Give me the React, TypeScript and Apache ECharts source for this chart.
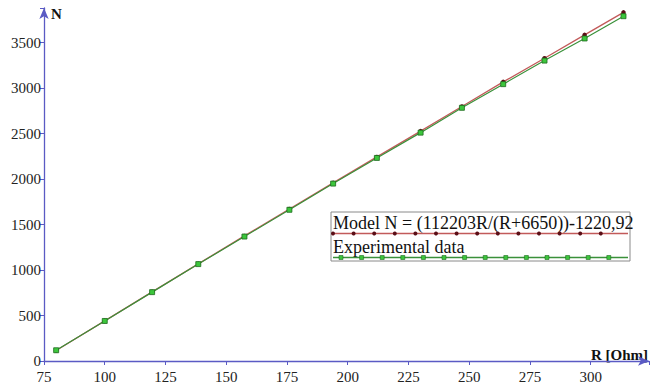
import { useEffect, useRef } from "react";
import * as echarts from "echarts";

const resistance = [80, 100, 119.5, 138.5, 157.5, 176, 194, 212, 230, 247, 264, 281, 297.5, 313.5];
const modelN = [115, 441, 760, 1068, 1375, 1670, 1958, 2243, 2527, 2798, 3068, 3328, 3585, 3832];
const experimentalN = [118, 440, 757, 1065, 1368, 1662, 1950, 2232, 2510, 2783, 3043, 3302, 3545, 3790];
const xTickLabels = [75, 100, 125, 150, 175, 200, 225, 250, 275, 300];
const yTickLabels = [0, 500, 1000, 1500, 2000, 2500, 3000, 3500];
const modelLabel = "Model N = (112203R/(R+6650))-1220,92";
const experimentalLabel = "Experimental data";

const FONT_NAME = "Liberation Serif";
const AXIS_COLOR = "#5a5ac4";
const MODEL_LINE = "#c25a5a";
const MODEL_DOT = "#5a0e16";
const EXP_LINE = "#3a913a";
const EXP_DOT = "#3cc63c";
const EXP_EDGE = "#1e6a1e";

export default function App() {
  const ref = useRef<HTMLDivElement>(null);
  useEffect(() => {
    if (!ref.current) return;
    const chart = echarts.init(ref.current, undefined, { renderer: "svg" });

    const legendLeft = 331;
    const legendTop = 212;
    const legendW = 299;
    const legendH = 49;
    const legendChildren: any[] = [
      {
        type: "rect",
        shape: { x: legendLeft, y: legendTop, width: legendW, height: legendH },
        style: { fill: "#ffffff", stroke: "#8a8a8a", lineWidth: 1 },
      },
      {
        type: "text",
        x: legendLeft + 2,
        y: legendTop + 11,
        style: { text: modelLabel, fontSize: 18, fontFamily: FONT_NAME, fill: "#111", textVerticalAlign: "middle" },
      },
      {
        type: "line",
        shape: { x1: legendLeft + 2, y1: legendTop + 21.5, x2: legendLeft + legendW - 2, y2: legendTop + 21.5 },
        style: { stroke: MODEL_LINE, lineWidth: 1.3 },
      },
      {
        type: "text",
        x: legendLeft + 2,
        y: legendTop + 35,
        style: { text: experimentalLabel, fontSize: 18, fontFamily: FONT_NAME, fill: "#111", textVerticalAlign: "middle" },
      },
      {
        type: "line",
        shape: { x1: legendLeft + 2, y1: legendTop + 45.5, x2: legendLeft + legendW - 2, y2: legendTop + 45.5 },
        style: { stroke: EXP_LINE, lineWidth: 1.3 },
      },
    ];
    for (let i = 0; i < 14; i++) {
      legendChildren.push({
        type: "circle",
        shape: { cx: legendLeft + 2 + i * 20.6, cy: legendTop + 21.5, r: 2 },
        style: { fill: MODEL_DOT },
      });
      legendChildren.push({
        type: "rect",
        shape: { x: legendLeft + 8 + i * 20.6, y: legendTop + 43.5, width: 4, height: 4 },
        style: { fill: EXP_DOT, stroke: EXP_EDGE, lineWidth: 0.6 },
      });
    }

    const axisCommon = {
      type: "value" as const,
      axisLine: {
        show: true,
        onZero: false,
        symbol: ["none", "arrow"],
        symbolSize: [7, 11],
        lineStyle: { color: AXIS_COLOR, width: 1.3 },
      },
      axisTick: { show: true, length: 4, lineStyle: { color: AXIS_COLOR } },
      splitLine: { show: false },
    };

    chart.setOption({
      animation: false,
      backgroundColor: "#ffffff",
      textStyle: { fontFamily: FONT_NAME },
      grid: { left: 44, right: 14, top: 8, bottom: 20, containLabel: false },
      xAxis: {
        ...axisCommon,
        min: 75,
        max: 324,
        interval: 25,
        axisLabel: {
          color: "#222",
          fontSize: 15,
          fontFamily: FONT_NAME,
          margin: 8,
          formatter: (v: number) => (xTickLabels.includes(v) ? String(v) : ""),
        },
      },
      yAxis: {
        ...axisCommon,
        min: 0,
        max: 3880,
        interval: 500,
        axisLabel: {
          color: "#222",
          fontSize: 15,
          fontFamily: FONT_NAME,
          margin: 3,
          formatter: (v: number) => (yTickLabels.includes(v) ? String(v) : ""),
        },
      },
      series: [
        {
          type: "line",
          name: modelLabel,
          data: resistance.map((r, i) => [r, modelN[i]]),
          symbol: "circle",
          symbolSize: 4.5,
          showAllSymbol: true,
          itemStyle: { color: MODEL_DOT },
          lineStyle: { color: MODEL_LINE, width: 1.3 },
          z: 2,
        },
        {
          type: "line",
          name: experimentalLabel,
          data: resistance.map((r, i) => [r, experimentalN[i]]),
          symbol: "rect",
          symbolSize: 5,
          showAllSymbol: true,
          itemStyle: { color: EXP_DOT, borderColor: EXP_EDGE, borderWidth: 0.8 },
          lineStyle: { color: EXP_LINE, width: 1.2 },
          z: 3,
        },
      ],
      graphic: [
        {
          type: "text",
          x: 51,
          y: 14,
          style: { text: "N", fontSize: 15, fontWeight: "bold", fontFamily: FONT_NAME, fill: "#111", textVerticalAlign: "middle" },
        },
        {
          type: "text",
          x: 648,
          y: 355,
          style: {
            text: "R [Ohm]",
            fontSize: 15,
            fontWeight: "bold",
            fontFamily: FONT_NAME,
            fill: "#111",
            textAlign: "right",
            textVerticalAlign: "middle",
          },
        },
        { type: "group", children: legendChildren, z: 100 },
      ],
    });
    return () => chart.dispose();
  }, []);
  return <div ref={ref} style={{ position: "fixed", left: 0, top: 0, width: 663, height: 384 }} />;
}
